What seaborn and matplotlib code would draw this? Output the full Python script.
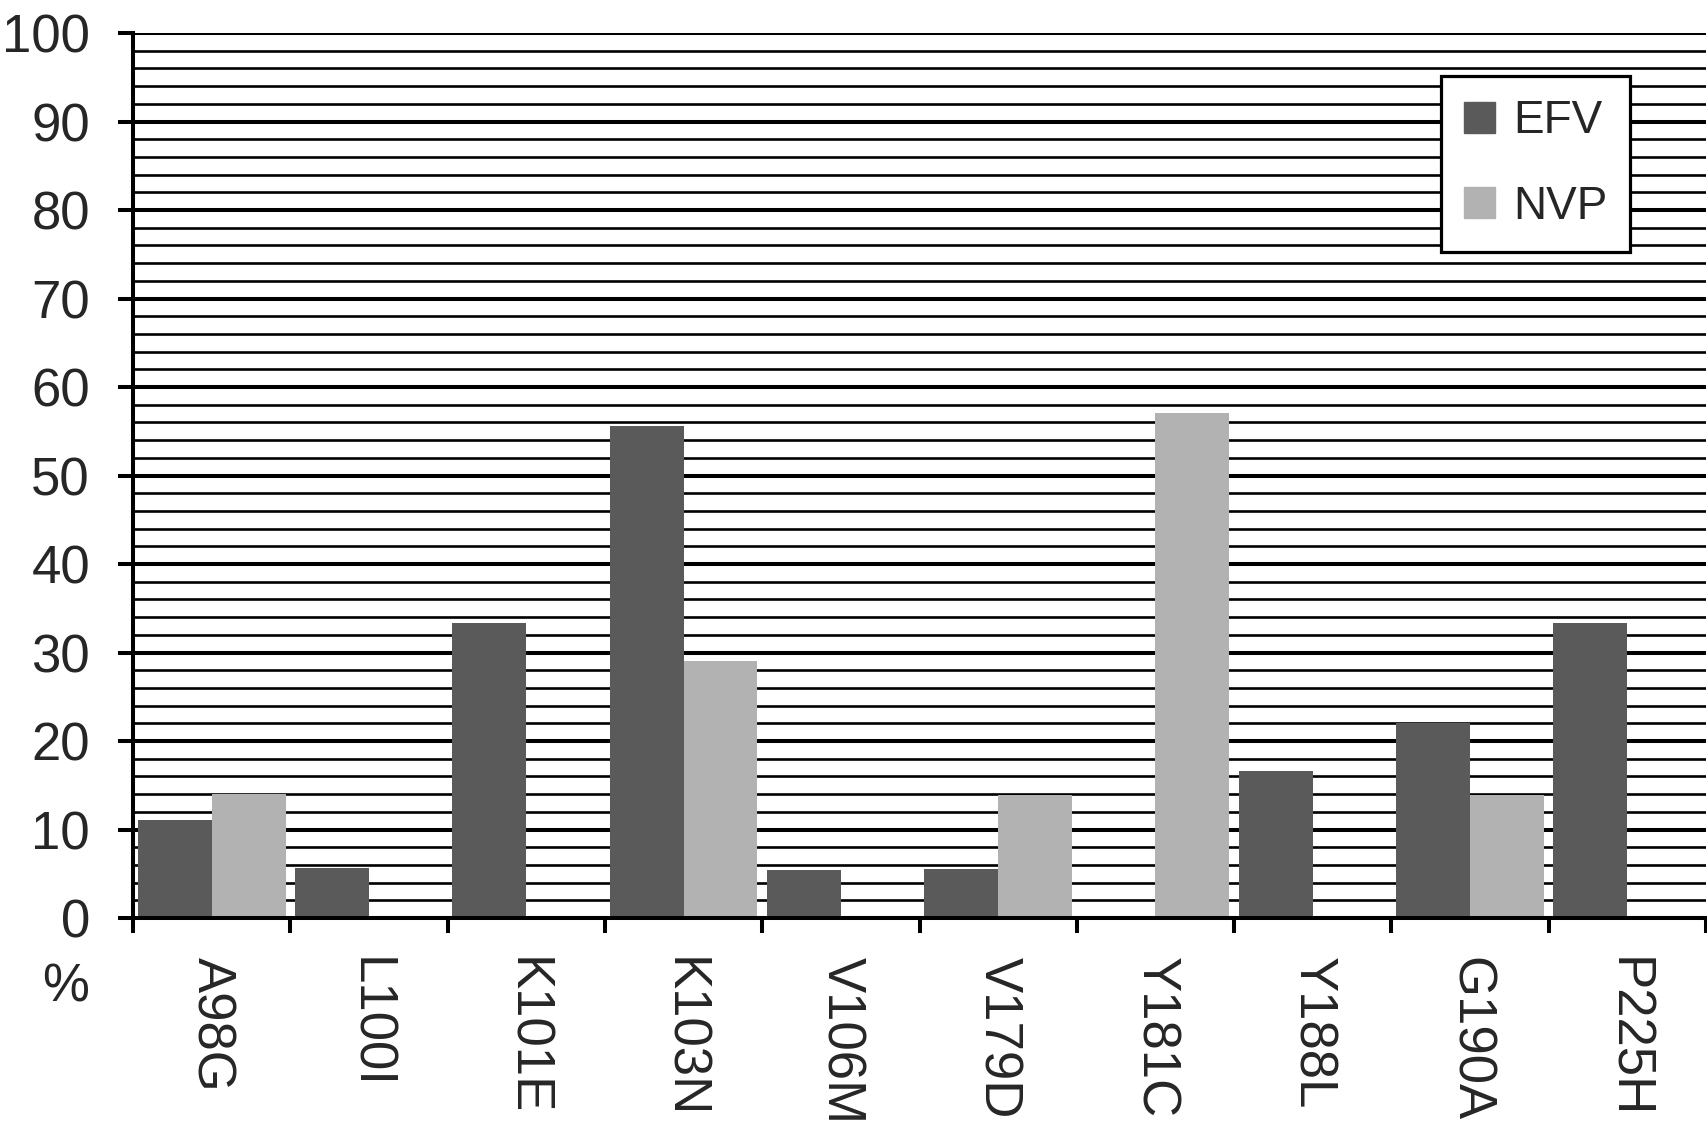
import numpy as np
import pandas as pd
import matplotlib.pyplot as plt
import seaborn as sns
from matplotlib.ticker import MultipleLocator

# data
mutations = ['A98G', 'L100I', 'K101E', 'K103N', 'V106M',
             'V179D', 'Y181C', 'Y188L', 'G190A', 'P225H']
efv = [11.1, 5.6, 33.3, 55.6, 5.4, 5.5, 0, 16.6, 22.0, 33.3]
nvp = [14.0, 0, 0, 29.0, 0, 13.9, 57.1, 0, 13.9, 0]
drugs = ['EFV', 'NVP']
colors = ['#5a5a5a', '#b2b2b2']

df = pd.DataFrame({'mutation': mutations * 2,
                   'drug': ['EFV'] * len(mutations) + ['NVP'] * len(mutations),
                   'value': efv + nvp})

sns.set_style('white')
plt.rcParams['font.family'] = ['Liberation Sans', 'DejaVu Sans']

fig = plt.figure(figsize=(17.08, 11.32), dpi=100)
ax = fig.add_axes([0.0779, 0.189, 0.9209, 0.7818])

sns.barplot(data=df, x='mutation', y='value', hue='drug', hue_order=drugs,
            palette=colors, width=0.94, gap=0, saturation=1,
            linewidth=0, ax=ax, legend=False)

ax.set_ylim(0, 100)
ax.set_xlim(-0.5, len(mutations) - 0.5)
ax.yaxis.set_major_locator(MultipleLocator(10))
ax.yaxis.set_minor_locator(MultipleLocator(2))
ax.set_axisbelow(True)
ax.grid(which='major', axis='y', color='black', linewidth=2.9)
ax.grid(which='minor', axis='y', color='black', linewidth=1.9)
ax.grid(axis='x', visible=False)

for s in ['top', 'right']:
    ax.spines[s].set_visible(False)
for s in ['left', 'bottom']:
    ax.spines[s].set_color('black')
    ax.spines[s].set_linewidth(2.9)

ax.tick_params(axis='y', which='major', direction='out', length=11, width=2.9,
               pad=20, labelsize=38, left=True, color='black')
ax.tick_params(axis='y', which='minor', length=0)

# category boundaries get tick marks, labels sit in between
ax.set_xticks(np.arange(-0.5, len(mutations), 1), minor=True)
ax.tick_params(axis='x', which='minor', direction='out', length=11, width=2.9,
               bottom=True, color='black')
ax.tick_params(axis='x', which='major', length=0, pad=28, labelsize=38)
for lab in ax.get_xticklabels():
    lab.set_rotation(270)
    lab.set_va('top')
    lab.set_ha('center')

ax.set_xlabel('')
ax.set_ylabel('')
ax.text(-0.043, -0.078, '%', transform=ax.transAxes, fontsize=38,
        ha='center', va='center')

handles = [plt.Rectangle((0, 0), 1, 1, color=c) for c in colors]
leg = ax.legend(handles, drugs, loc='upper left', bbox_to_anchor=(0.8315, 0.951),
                borderaxespad=0, fontsize=33, frameon=True, fancybox=False,
                framealpha=1, handlelength=0.67, handleheight=0.67,
                handletextpad=0.4, labelspacing=0.9, borderpad=0.5)
leg.get_frame().set_edgecolor('black')
leg.get_frame().set_linewidth(2.3)

fig.savefig('out.png', dpi=100)
